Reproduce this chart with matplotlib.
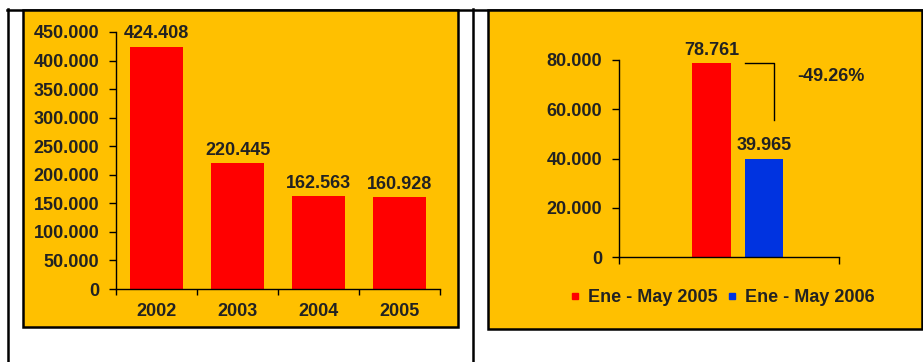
"""Recreate the two orange bar charts (yearly totals and Jan-May comparison)."""

import matplotlib

matplotlib.use("Agg")
import matplotlib.pyplot as plt
from matplotlib.lines import Line2D
from matplotlib.patches import Rectangle
from matplotlib.ticker import FuncFormatter

years = ["2002", "2003", "2004", "2005"]
year_values = [424408, 220445, 162563, 160928]

periods = ["Ene - May 2005", "Ene - May 2006"]
period_values = [78761, 39965]
bracket_bottom = 55600

W, H = 923, 362
ORANGE = "#FFC000"
TEXT = "#222222"
plt.rcParams["font.family"] = ["Liberation Sans", "DejaVu Sans"]
plt.rcParams["font.weight"] = "bold"
FS = 13


def fx(x):
    return x / W


def fy(y):
    return 1 - y / H


def dots(v, _pos=None):
    return f"{int(round(v)):,}".replace(",", ".")


fig = plt.figure(figsize=(W / 100, H / 100), dpi=100)
fig.patch.set_facecolor("white")

# table frame lines
for xs, ys in [([7, 923], [9.5, 9.5]), ([8, 8], [9, 362]), ([473, 473], [9, 362])]:
    fig.add_artist(Line2D([fx(x) for x in xs], [fy(y) for y in ys], transform=fig.transFigure,
                          color="black", lw=1.8, zorder=-2))

# orange panels
for x0, y0, x1, y1 in [(23, 10, 458, 327), (488, 10, 922, 329)]:
    fig.add_artist(Rectangle((fx(x0), fy(y1)), fx(x1) - fx(x0), fy(y0) - fy(y1),
                             transform=fig.transFigure, facecolor=ORANGE,
                             edgecolor="black", lw=1.8, zorder=-1))


def style(ax):
    ax.patch.set_visible(False)
    for s in ["top", "right"]:
        ax.spines[s].set_visible(False)
    for s in ["left", "bottom"]:
        ax.spines[s].set_color("black")
        ax.spines[s].set_linewidth(1.0)
    ax.tick_params(axis="y", direction="out", length=5, width=1, pad=7,
                   labelsize=FS, labelcolor=TEXT)
    ax.yaxis.set_major_formatter(FuncFormatter(dots))


# left chart
ax1 = fig.add_axes([fx(116), fy(289), (440 - 116) / W, (289 - 32) / H])
style(ax1)
xs = range(len(years))
ax1.bar(xs, year_values, width=0.65, color="#FF0000")
for x, v in zip(xs, year_values):
    ax1.annotate(dots(v), (x, v), xytext=(0, 3), textcoords="offset points",
                 ha="center", va="bottom", fontsize=FS, color=TEXT, fontweight="bold")
ax1.set_xlim(-0.5, len(years) - 0.5)
ax1.set_ylim(0, 450000)
ax1.set_yticks(range(0, 450001, 50000))
ax1.set_xticks(list(xs))
ax1.set_xticklabels(years)
ax1.set_xticks([i - 0.5 for i in range(len(years) + 1)], minor=True)
ax1.tick_params(axis="x", which="major", length=0, pad=10, labelsize=FS, labelcolor=TEXT)
ax1.tick_params(axis="x", which="minor", direction="out", length=4, width=1)

# right chart
ax2 = fig.add_axes([fx(619), fy(257), 220 / W, 197 / H])
style(ax2)
centers = [0.42, 0.66]
bw = 0.175
colors = ["#FF0000", "#0033E0"]
ax2.bar(centers, period_values, width=bw, color=colors)
for x, v in zip(centers, period_values):
    ax2.annotate(dots(v), (x, v), xytext=(0, 3), textcoords="offset points",
                 ha="center", va="bottom", fontsize=FS, color=TEXT, fontweight="bold")
bx = centers[1] + 0.045
ax2.plot([centers[1] - bw / 2, bx, bx], [period_values[0], period_values[0], bracket_bottom],
         color="black", lw=1.0, clip_on=False)
change = (period_values[1] - period_values[0]) / period_values[0] * 100
ax2.text(0.81, 73500, f"{change:.2f}%", ha="left", va="center", fontsize=FS,
         color=TEXT, fontweight="bold", clip_on=False)
ax2.set_xlim(0, 1)
ax2.set_ylim(0, 80000)
ax2.set_yticks(range(0, 80001, 20000))
ax2.set_xticks([0, 1])
ax2.set_xticklabels([])
ax2.tick_params(axis="x", direction="out", length=5, width=1)

handles = [Line2D([], [], marker="s", ls="none", color=c, markersize=5) for c in colors]
leg = fig.legend(handles, periods, loc="center", bbox_to_anchor=(fx(722), fy(298)), ncol=2,
                 frameon=False, handlelength=0.6, handletextpad=0.4, columnspacing=0.5,
                 prop={"size": FS, "weight": "bold"})
for t in leg.get_texts():
    t.set_color(TEXT)

fig.savefig("out.png", dpi=100)
plt.close(fig)
